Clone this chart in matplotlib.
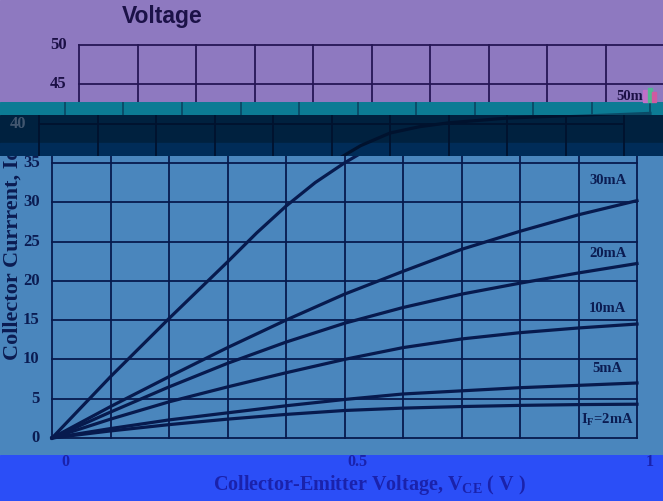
import matplotlib
matplotlib.use("Agg")
import matplotlib.pyplot as plt
from matplotlib.patches import Rectangle

plt.rcParams['mathtext.fontset'] = 'custom'
plt.rcParams['mathtext.rm'] = 'Liberation Serif'
plt.rcParams['mathtext.bf'] = 'Liberation Serif:bold'

# forward current curves, Ic (mA) vs Vce (V)
vce = [0, 0.1, 0.2, 0.3, 0.4, 0.5, 0.6, 0.7, 0.8, 0.9, 1.0]
vce_50 = [0, 0.1, 0.2, 0.3, 0.35, 0.4, 0.45, 0.5, 0.55, 0.6, 0.65, 0.7, 0.8, 0.9, 1.0]
ic_50 = [0, 7.8, 15.2, 22.4, 26.1, 29.5, 32.5, 35.0, 37.2, 38.8, 39.6, 40.1, 40.7, 41.0, 41.3]
ic_30 = [0, 4.0, 7.8, 11.5, 15.0, 18.3, 21.2, 24.0, 26.3, 28.4, 30.2]
ic_20 = [0, 3.3, 6.5, 9.5, 12.2, 14.6, 16.6, 18.3, 19.7, 21.0, 22.2]
ic_10 = [0, 2.4, 4.6, 6.5, 8.3, 10.0, 11.5, 12.6, 13.4, 14.0, 14.5]
ic_5 = [0, 1.2, 2.3, 3.2, 4.1, 4.9, 5.6, 6.0, 6.4, 6.7, 7.0]
ic_2 = [0, 0.9, 1.7, 2.4, 3.0, 3.5, 3.8, 4.0, 4.15, 4.25, 4.3]

curve_labels = ["50mA", "30mA", "20mA", "10mA", "5mA", r"$\mathbf{I_F}$=2mA"]
label_y = [43.4, 32.7, 23.5, 16.5, 8.9, 2.3]
y_ticks = [0, 5, 10, 15, 20, 25, 30, 35, 40, 45, 50]
x_ticks = [0, 0.5, 1]
x_tick_text = ["0", "0.5", "1"]

W, H = 663, 501
X0, XS = 52, 585      # pixel of Vce=0, pixels per volt
Y0, YS = 438, 7.86    # pixel of Ic=0, pixels per mA

fig = plt.figure(figsize=(W / 100, H / 100), dpi=100)
serif = dict(family='Liberation Serif', weight='bold', clip_on=True)


def draw_chart(ax, line_c, text_c, main=False):
    lo, hi = ax.get_ylim()

    def inside(y):
        return lo <= y <= hi

    for yv in y_ticks:
        ax.plot([0, 1], [yv, yv], color=line_c, lw=1.3)
    for i in range(11):
        ax.plot([i / 10, i / 10], [0, 50], color=line_c, lw=1.3)
    ax.plot(vce_50, ic_50, color=line_c, lw=2.3)
    for ic in [ic_30, ic_20, ic_10, ic_5, ic_2]:
        ax.plot(vce, ic, color=line_c, lw=2.3)
    for lab, yl in zip(curve_labels, label_y):
        if inside(yl):
            ax.text(0.95, yl, lab, ha='center', va='center', color=text_c,
                    fontsize=10.5, **serif)
    for yv in y_ticks:
        if inside(yv):
            ax.text(-0.021, yv, str(yv), ha='right', va='center', color=text_c,
                    fontsize=12, **serif)
    if inside(-3.1):
        for xv, xt in zip(x_ticks, x_tick_text):
            ax.text(xv, -3.1, xt, ha='center', va='center', color=text_c,
                    fontsize=11.5, **serif)
    if inside(-6.0):
        ax.text(0.52, -6.0, r"Collector-Emitter Voltage, $\mathbf{V_{CE}}$ ( V )",
                ha='center', va='center', color=text_c, fontsize=14.5, **serif)
    if main:
        ax.text(-0.068, 9.9, "Collector Currrent, Ic", rotation=90, ha='center',
                va='bottom', color=text_c, fontsize=16, **serif)


def band(y_top, y_bot, dx, bg, line_c, text_c, main=False):
    ax = fig.add_axes([0, 1 - y_bot / H, 1, (y_bot - y_top) / H])
    ax.set_xlim((0 - X0 - dx) / XS, (W - X0 - dx) / XS)
    ax.set_ylim((Y0 - y_bot) / YS, (Y0 - y_top) / YS)
    ax.axis('off')
    ax.add_patch(Rectangle((0, 0), 1, 1, transform=ax.transAxes, color=bg, zorder=0))
    draw_chart(ax, line_c, text_c, main)
    return ax


# glitched horizontal slices of the chart
band(0, 102, 27, '#8e79c0', '#261656', '#1c1046')
band(102, 115, 13, '#0c7b94', '#0a4a66', '#0a3550')
nav = band(115, 156, -13, '#00213f', '#00122e', '#41566f')
nav.add_patch(Rectangle((0, 0), 1, 13 / 41, transform=nav.transAxes,
                        color='#002c58', zorder=0.5))
band(156, 455, 0, '#4a86bd', '#071a4e', '#0b1c52', main=True)
band(455, H, 13, '#2b4ef7', '#1a22ac', '#1a22ac')

# small corrupted block next to the 50mA label
for x, y, w, h, c in [(643, 90, 5, 12, '#c070c8'), (648, 88, 4, 14, '#50b890'),
                      (652, 92, 4, 10, '#d05aa0')]:
    fig.patches.append(Rectangle((x / W, 1 - (y + h) / H), w / W, h / H,
                                 transform=fig.transFigure, color=c))

fig.text(122 / W, 1 - 17 / H, "Voltage", ha='left', va='center',
         family='Liberation Sans', weight='bold', fontsize=16.5, color='#1c1248')

fig.savefig("out.png", dpi=100)
